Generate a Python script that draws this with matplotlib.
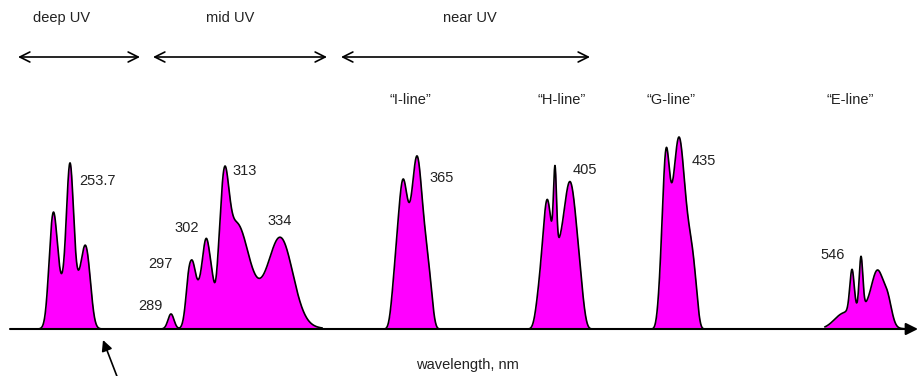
import numpy as np
import matplotlib.pyplot as plt

plt.rcParams['font.family'] = ['Liberation Sans', 'DejaVu Sans']

# schematic Hg lamp spectrum (x = position along the drawn axis, not nm)
# each group: flat-topped pedestal (centre, height, half width) + lines (pos, height, sigma)
deep_ped = (70, 40, 21)
deep_pos = [53, 70, 86]
deep_h = [86, 126, 50]
deep_w = [4.0, 3.5, 4.5]

mid_ped = (203, 40, 11)
mid_pos = [171, 190, 206, 224, 236, 281, 258]
mid_h = [15, 63, 44, 97, 90, 77, 22]
mid_w = [3.0, 3.5, 3.5, 4.5, 12, 12, 25]

i_ped = (412, 90, 20)
i_pos = [403, 417]
i_h = [60, 83]
i_w = [4.0, 4.5]

h_ped = (560, 80, 23)
h_pos = [547, 555, 570]
h_h = [52, 78, 68]
h_w = [3.5, 1.5, 5.5]

g_ped = (678, 95, 19)
g_pos = [666, 679]
g_h = [88, 97]
g_w = [3.2, 5.0]

e_ped = (866, 0, 10)
e_pos = [852, 861, 878, 866, 842, 888]
e_h = [42, 52, 45, 20, 12, 20]
e_w = [2.2, 1.8, 6.0, 13, 9, 4]

groups = [(deep_ped, deep_pos, deep_h, deep_w, 36, 104),
          (mid_ped, mid_pos, mid_h, mid_w, 162, 322),
          (i_ped, i_pos, i_h, i_w, 377, 452),
          (h_ped, h_pos, h_h, h_w, 519, 599),
          (g_ped, g_pos, g_h, g_w, 652, 709),
          (e_ped, e_pos, e_h, e_w, 825, 904)]

peak_labels = ['253.7', '289', '297', '302', '313', '334', '365', '405', '435', '546']
peak_lx = [79, 138, 148, 174, 232, 267, 429, 573, 692, 820]
peak_ly = [148, 23, 65, 101, 158, 108, 151, 159, 168, 74]

line_names = ['\u201cI-line\u201d', '\u201cH-line\u201d', '\u201cG-line\u201d', '\u201cE-line\u201d']
line_x = [410, 562, 671, 850]

bands = ['deep UV', 'mid UV', 'near UV']
band_tx = [62, 230, 470]
band_x0 = [18, 153, 341]
band_x1 = [140, 327, 590]

fig = plt.figure(figsize=(9.18, 3.76), dpi=100)
ax = fig.add_axes([0, 0, 1, 1])
ax.set_xlim(0, 918)
ax.set_ylim(-47, 329)
ax.axis('off')

for ped, pos, h, w, x0, x1 in groups:
    x = np.linspace(x0, x1, 600)
    c, a, hw = ped
    y = a * np.exp(-((x - c) / hw) ** 6)
    for p, a, s in zip(pos, h, w):
        y += a * np.exp(-(x - p) ** 2 / (2 * s ** 2))
    ax.fill_between(x, 0, y, color='#ff00ff', lw=0)
    ax.plot(x, y, color='black', lw=1.2)

# wavelength axis
ax.annotate('', xy=(918, 0), xytext=(10, 0),
            arrowprops=dict(arrowstyle='-|>', color='black', lw=1.5,
                            mutation_scale=18, shrinkA=0, shrinkB=0))

for t, x, y in zip(peak_labels, peak_lx, peak_ly):
    ax.text(x, y, t, fontsize=10.5, color='#222222', ha='left', va='center')

for t, x in zip(line_names, line_x):
    ax.text(x, 229, t, fontsize=10.5, color='#222222', ha='center', va='center')

for t, tx, a, b in zip(bands, band_tx, band_x0, band_x1):
    ax.text(tx, 311, t, fontsize=10.5, color='#222222', ha='center', va='center')
    ax.annotate('', xy=(b, 272), xytext=(a, 272),
                arrowprops=dict(arrowstyle='<->', color='black', lw=1.2,
                                mutation_scale=18, shrinkA=0, shrinkB=0))

ax.text(467, -36, 'wavelength, nm', fontsize=10.5, color='#222222',
        ha='center', va='center')

ax.annotate('', xy=(103, -11), xytext=(118, -50),
            arrowprops=dict(arrowstyle='-|>', color='black', lw=1.2,
                            mutation_scale=16, shrinkA=0, shrinkB=0))

fig.savefig('out.png', dpi=100)
